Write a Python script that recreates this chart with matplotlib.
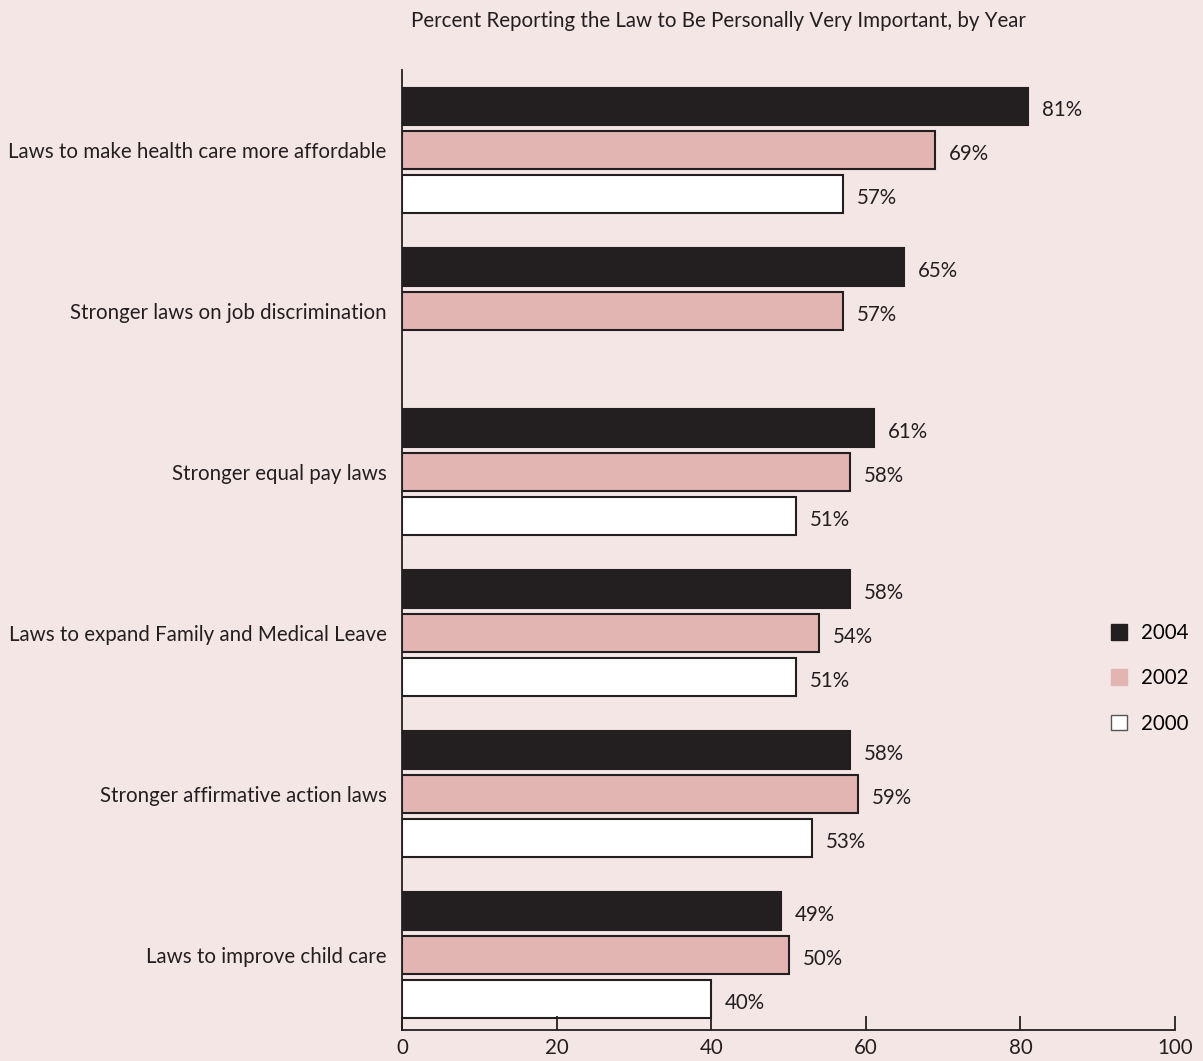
import numpy as np
import matplotlib.pyplot as plt
from matplotlib.patches import Patch

plt.rcParams['font.family'] = ['Lato', 'DejaVu Sans']

categories = ['Laws to make health care more affordable',
              'Stronger laws on job discrimination',
              'Stronger equal pay laws',
              'Laws to expand Family and Medical Leave',
              'Stronger affirmative action laws',
              'Laws to improve child care']
years = ['2004', '2002', '2000']
v2004 = [81, 65, 61, 58, 58, 49]
v2002 = [69, 57, 58, 54, 59, 50]
v2000 = [57, np.nan, 51, 51, 53, 40]
xticks = [0, 20, 40, 60, 80, 100]

bg = '#f5e6e6'
colors = ['#231f20', '#e2b5b3', '#ffffff']
fs = 14.8

fig = plt.figure(figsize=(12.03, 10.61), dpi=100, facecolor=bg)
ax = fig.add_axes([402/1203, 31/1061, 773/1203, 960/1061])
ax.set_facecolor(bg)

pitch = 161/44
centers = np.arange(len(categories)) * pitch + 1
h = 38/44
for k, vals in enumerate([v2004, v2002, v2000]):
    for i, v in enumerate(vals):
        if np.isnan(v):
            continue
        y = centers[i] + (k - 1)
        ax.barh(y, v, height=h, color=colors[k], edgecolor='#231f20', linewidth=1.5)
        ax.text(v + 1.8, y + 0.08, '%d%%' % v, va='center', ha='left', fontsize=fs, color='#231f20')

ax.set_ylim(21.0, -0.83)
ax.set_xlim(0, 100)
ax.set_yticks(centers)
ax.set_yticklabels(categories, fontsize=fs, color='#231f20')
ax.tick_params(axis='y', length=0, pad=11)
ax.set_xticks(xticks)
ax.set_xticklabels([str(t) for t in xticks], fontsize=fs, color='#231f20')
ax.tick_params(axis='x', direction='in', length=10, width=1.3, color='#231f20', pad=6)
for s in ['top', 'right']:
    ax.spines[s].set_visible(False)
for s in ['left', 'bottom']:
    ax.spines[s].set_linewidth(1.3)
    ax.spines[s].set_color('#231f20')

fig.text(718/1203, 1 - 21/1061, 'Percent Reporting the Law to Be Personally Very Important, by Year',
         ha='center', va='center', fontsize=fs, color='#231f20')

handles = [Patch(facecolor=colors[k], edgecolor='#555555' if k == 2 else colors[k], linewidth=1)
           for k in range(3)]
fig.legend(handles, years, loc='upper left', bbox_to_anchor=(1111/1203, 1 - 623/1061),
           frameon=False, fontsize=fs, handlelength=0.78, handleheight=0.78,
           handletextpad=0.7, labelspacing=1.23, borderpad=0, borderaxespad=0)

fig.savefig('out.png', dpi=100, facecolor=bg)
